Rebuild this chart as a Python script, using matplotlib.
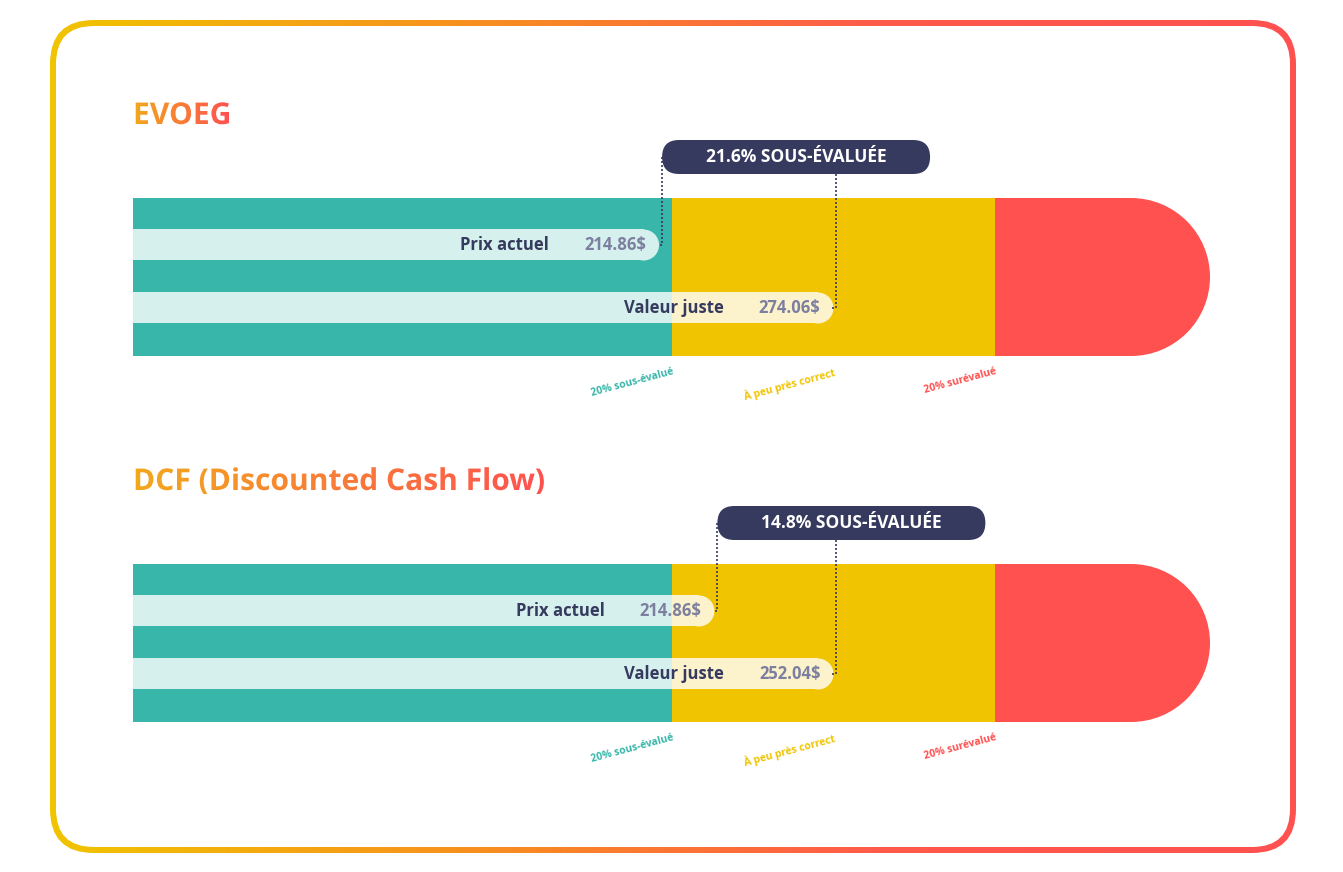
import numpy as np
import matplotlib
matplotlib.use("Agg")
import matplotlib.pyplot as plt
from matplotlib.patches import FancyBboxPatch, Ellipse, PathPatch
from matplotlib.textpath import TextPath
from matplotlib.font_manager import FontProperties
from matplotlib.transforms import Affine2D, blended_transform_factory

titles = ["EVOEG", "DCF (Discounted Cash Flow)"]
prices = [214.86, 214.86]
fair_values = [274.06, 252.04]
callouts = ["21.6% SOUS-ÉVALUÉE", "14.8% SOUS-ÉVALUÉE"]
zone_labels = ["20% sous-évalué", "À peu près correct", "20% surévalué"]

TEAL, LTEAL = "#37b6a9", "#d6f0ed"
YEL, LYEL = "#f0c400", "#fcf3cc"
RED = "#ff5150"
NAVY = "#363a5e"
GREY = "#7d7fa0"
FONT = "Open Sans"

W, H = 1343, 872
fig = plt.figure(figsize=(W/100, H/100), dpi=100)
bg = fig.add_axes([0, 0, 1, 1], zorder=0)
top = fig.add_axes([0, 0, 1, 1], zorder=5)
for a in (bg, top):
    a.set_xlim(0, W); a.set_ylim(H, 0); a.axis("off")
top.patch.set_alpha(0)

grad = np.linspace(0, 1, 256).reshape(1, -1)
from matplotlib.colors import LinearSegmentedColormap
cmap = LinearSegmentedColormap.from_list("g", ["#f0c400", "#f7901e", "#ff5a4a", "#ff5150"])

# frame
outer = FancyBboxPatch((50, 20), 1246, 833, boxstyle="round,pad=0,rounding_size=44",
                       transform=bg.transData, facecolor="none", edgecolor="none")
bg.add_patch(outer)
im = bg.imshow(grad, cmap=cmap, extent=(50, 1296, 853, 20), aspect="auto", zorder=1)
im.set_clip_path(outer)
bg.add_patch(FancyBboxPatch((56, 26), 1234, 821, boxstyle="round,pad=0,rounding_size=38",
                            facecolor="white", edgecolor="none", zorder=2))
bg.set_xlim(0, W); bg.set_ylim(H, 0)

fp_title = FontProperties(family=FONT, weight="bold")

def grad_text(ax, x, y, s, size):
    tp = TextPath((0, 0), s, size=size, prop=fp_title)
    bb = tp.get_extents()
    tr = Affine2D().scale(1, -1).translate(x, y) + ax.transData
    pp = PathPatch(tp, transform=tr, facecolor="none", edgecolor="none")
    ax.add_patch(pp)
    img = ax.imshow(grad, cmap=LinearSegmentedColormap.from_list("t", ["#f2a81d", "#ff5150"]),
                    extent=(x, x + bb.x1, y + 4, y - size), aspect="auto", zorder=6)
    img.set_clip_path(pp)

bar_px0, bar_px1 = 133, 1210
f_lo, f_hi = (672 - 133) / 1077, (995 - 133) / 1077
tops = [198, 564]
title_y = [124, 490]
R = 79
stripe_h = 31

for i in range(2):
    f = fair_values[i]; p = prices[i]
    span = 0.4 * f / (f_hi - f_lo)
    v0 = 0.8 * f - f_lo * span
    v1 = v0 + span
    t = tops[i]
    axb = fig.add_axes([bar_px0 / W, (H - t - 158) / H, 1077 / W, 158 / H], zorder=1)
    axb.set_xlim(v0, v1); axb.set_ylim(t + 158, t); axb.axis("off"); axb.patch.set_alpha(0)
    ppx = span / 1077  # data per pixel
    yc = t + 79
    axb.barh(yc, 0.8 * f - v0, left=v0, height=158, color=TEAL)
    axb.barh(yc, 0.4 * f, left=0.8 * f, height=158, color=YEL)
    axb.barh(yc, v1 - R * ppx - 1.2 * f, left=1.2 * f, height=158, color=RED)
    axb.add_patch(Ellipse((v1 - R * ppx, yc), 2 * R * ppx, 158, color=RED, lw=0))

    sy = [t + 47, t + 110]
    btr = blended_transform_factory(axb.transData, top.transData)
    for val, y, lab in [(p, sy[0], "Prix actuel"), (f, sy[1], "Valeur juste")]:
        r = stripe_h / 2
        end = val - r * ppx
        split = min(end, 0.8 * f)
        axb.barh(y, split - v0, left=v0, height=stripe_h, color=LTEAL, lw=0)
        if end > 0.8 * f:
            axb.barh(y, end - 0.8 * f, left=0.8 * f, height=stripe_h, color=LYEL, lw=0)
        axb.add_patch(Ellipse((end, y), 2 * r * ppx, stripe_h,
                              color=LYEL if end > 0.8 * f else LTEAL, lw=0))
        top.annotate(f"{val:.2f}$", (val, y), xycoords=btr, xytext=(-13, 0),
                     textcoords="offset pixels", ha="right", va="center",
                     fontsize=12, fontweight="bold", color=GREY, family=FONT)
        top.annotate(lab + "  ", (val, y), xycoords=btr, xytext=(-13 - 88, 0),
                     textcoords="offset pixels", ha="right", va="center",
                     fontsize=12, fontweight="bold", color=NAVY, family=FONT)

    # callout
    to_px = lambda v: top.transData.inverted().transform(axb.transData.transform((v, 0)))[0]
    xp, xf = to_px(p), to_px(f)
    cy = t - 41
    top.add_patch(FancyBboxPatch((xp + 3, cy - 17), 268, 34,
                                 boxstyle="round,pad=0,rounding_size=17",
                                 facecolor=NAVY, edgecolor="none"))
    top.text(xp + 3 + 134, cy, callouts[i], ha="center", va="center", color="white",
             fontsize=12.5, fontweight="bold", family=FONT)
    top.plot([xp + 3, xp + 3, xp - 1], [cy, sy[0], sy[0]], ls=(0, (1.2, 1.2)), color=NAVY, lw=1.2)
    top.plot([xf + 3, xf + 3, xf - 1], [cy + 17, sy[1], sy[1]], ls=(0, (1.2, 1.2)), color=NAVY, lw=1.2)

    # zone labels
    for v, lab, c in zip([0.8 * f, f, 1.2 * f], zone_labels, [TEAL, YEL, RED]):
        top.annotate(lab, (v, t + 168), xycoords=btr, ha="right", va="top", rotation=15,
                     rotation_mode="anchor", fontsize=7.5, fontweight="bold", color=c, family=FONT)

    grad_text(top, 133, title_y[i], titles[i], 30)

top.set_xlim(0, W); top.set_ylim(H, 0)
fig.savefig("out.png", dpi=100)
